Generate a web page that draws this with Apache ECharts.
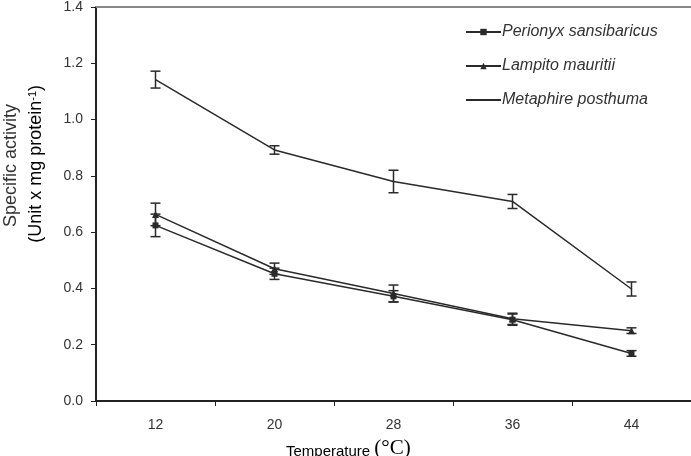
<!DOCTYPE html>
<html lang="en">
<head>
    <meta charset="UTF-8">
    <title>Specific activity vs temperature</title>
    <script src="https://cdn.jsdelivr.net/npm/echarts@6/dist/echarts.min.js"></script>
    <style>
        html, body { margin: 0; padding: 0; background: #fff; }
        #chart { width: 691px; height: 456px; }
    </style>
</head>
<body>
<div id="chart"></div>
<script type="text/javascript">
    // temperatures (x axis categories)
    var temps = ['12', '20', '28', '36', '44'];

    // series values
    var perionyx = [0.624, 0.452, 0.372, 0.289, 0.169];
    var perionyxErr = [0.04, 0.02, 0.02, 0.02, 0.01];

    var lampito = [0.663, 0.470, 0.382, 0.292, 0.250];
    var lampitoErr = [0.04, 0.02, 0.03, 0.02, 0.01];

    var metaphire = [1.142, 0.892, 0.780, 0.709, 0.398];
    var metaphireErr = [0.03, 0.015, 0.04, 0.025, 0.025];

    var lineColor = '#2a2a2a';
    var sans = 'Liberation Sans, Arial, sans-serif';

    // build [x, low, high] for error bars
    function errData(vals, errs) {
        return vals.map(function (v, i) {
            return [i, v - errs[i], v + errs[i]];
        });
    }

    function renderErr(params, api) {
        var lo = api.coord([api.value(0), api.value(1)]);
        var hi = api.coord([api.value(0), api.value(2)]);
        var w = 5;
        var style = { stroke: lineColor, lineWidth: 1.5 };
        return {
            type: 'group',
            children: [
                { type: 'line', shape: { x1: lo[0], y1: lo[1], x2: hi[0], y2: hi[1] }, style: style },
                { type: 'line', shape: { x1: lo[0] - w, y1: lo[1], x2: lo[0] + w, y2: lo[1] }, style: style },
                { type: 'line', shape: { x1: hi[0] - w, y1: hi[1], x2: hi[0] + w, y2: hi[1] }, style: style }
            ]
        };
    }

    var chart = echarts.init(document.getElementById('chart'));
    var option = {
        animation: false,
        textStyle: { fontFamily: sans },
        grid: { left: 96, right: 0, top: 4, bottom: 55 },
        legend: {
            orient: 'vertical',
            left: 460,
            top: 19,
            itemWidth: 35,
            itemHeight: 8,
            itemGap: 18,
            data: [
                'Perionyx sansibaricus',
                'Lampito mauritii',
                { name: 'Metaphire posthuma', itemStyle: { opacity: 0 } }
            ],
            textStyle: { fontStyle: 'italic', fontSize: 16, lineHeight: 16, color: '#333', padding: [0, 0, 0, -4] }
        },
        xAxis: [{
            type: 'category',
            data: temps,
            boundaryGap: true,
            axisLine: { lineStyle: { color: '#222', width: 2 } },
            axisTick: { show: true, length: 5, lineStyle: { color: '#222' } },
            axisLabel: { fontSize: 14, color: '#333', margin: 17 }
        }, {
            type: 'category',
            data: temps,
            position: 'top',
            axisLine: { lineStyle: { color: '#888', width: 2 } },
            axisTick: { show: false },
            axisLabel: { show: false }
        }],
        yAxis: {
            type: 'value',
            min: 0,
            max: 1.4,
            interval: 0.2,
            splitLine: { show: false },
            axisLine: { show: true, lineStyle: { color: '#222', width: 2 } },
            axisTick: { show: true, length: 5, lineStyle: { color: '#222' } },
            axisLabel: {
                fontSize: 14,
                color: '#333',
                margin: 13,
                formatter: function (v) { return v.toFixed(1); }
            }
        },
        graphic: [{
            type: 'text',
            left: 2,
            top: 104,
            rotation: Math.PI / 2,
            style: {
                text: 'Specific activity',
                fontSize: 18,
                fontFamily: sans,
                fill: '#333'
            }
        }, {
            type: 'text',
            left: 27,
            top: 85,
            rotation: Math.PI / 2,
            style: {
                text: '{n|(Unit x mg protein}{s|-1}{n|)}',
                rich: {
                    n: { fontSize: 18, fontFamily: sans, color: '#333', verticalAlign: 'bottom' },
                    s: { fontSize: 11, fontFamily: sans, color: '#333', verticalAlign: 'top' }
                }
            }
        }, {
            type: 'text',
            left: 286,
            top: 438,
            style: {
                text: '{a|Temperature }{b|(°C)}',
                rich: {
                    a: { fontSize: 15, fontFamily: sans, color: '#333', verticalAlign: 'bottom' },
                    b: { fontSize: 21, fontFamily: 'Liberation Serif, Times New Roman, serif', color: '#333', verticalAlign: 'bottom' }
                }
            }
        }],
        series: [
            {
                name: 'Perionyx sansibaricus',
                type: 'line',
                data: perionyx,
                symbol: 'rect',
                symbolSize: 6,
                itemStyle: { color: lineColor },
                lineStyle: { color: lineColor, width: 1.5 }
            },
            {
                name: 'Lampito mauritii',
                type: 'line',
                data: lampito,
                symbol: 'triangle',
                symbolSize: 7,
                itemStyle: { color: lineColor },
                lineStyle: { color: lineColor, width: 1.5 }
            },
            {
                name: 'Metaphire posthuma',
                type: 'line',
                data: metaphire,
                symbol: 'none',
                itemStyle: { color: lineColor },
                lineStyle: { color: lineColor, width: 1.5 }
            },
            { type: 'custom', renderItem: renderErr, data: errData(perionyx, perionyxErr), z: 3 },
            { type: 'custom', renderItem: renderErr, data: errData(lampito, lampitoErr), z: 3 },
            { type: 'custom', renderItem: renderErr, data: errData(metaphire, metaphireErr), z: 3 }
        ]
    };
    chart.setOption(option);
</script>
</body>
</html>
